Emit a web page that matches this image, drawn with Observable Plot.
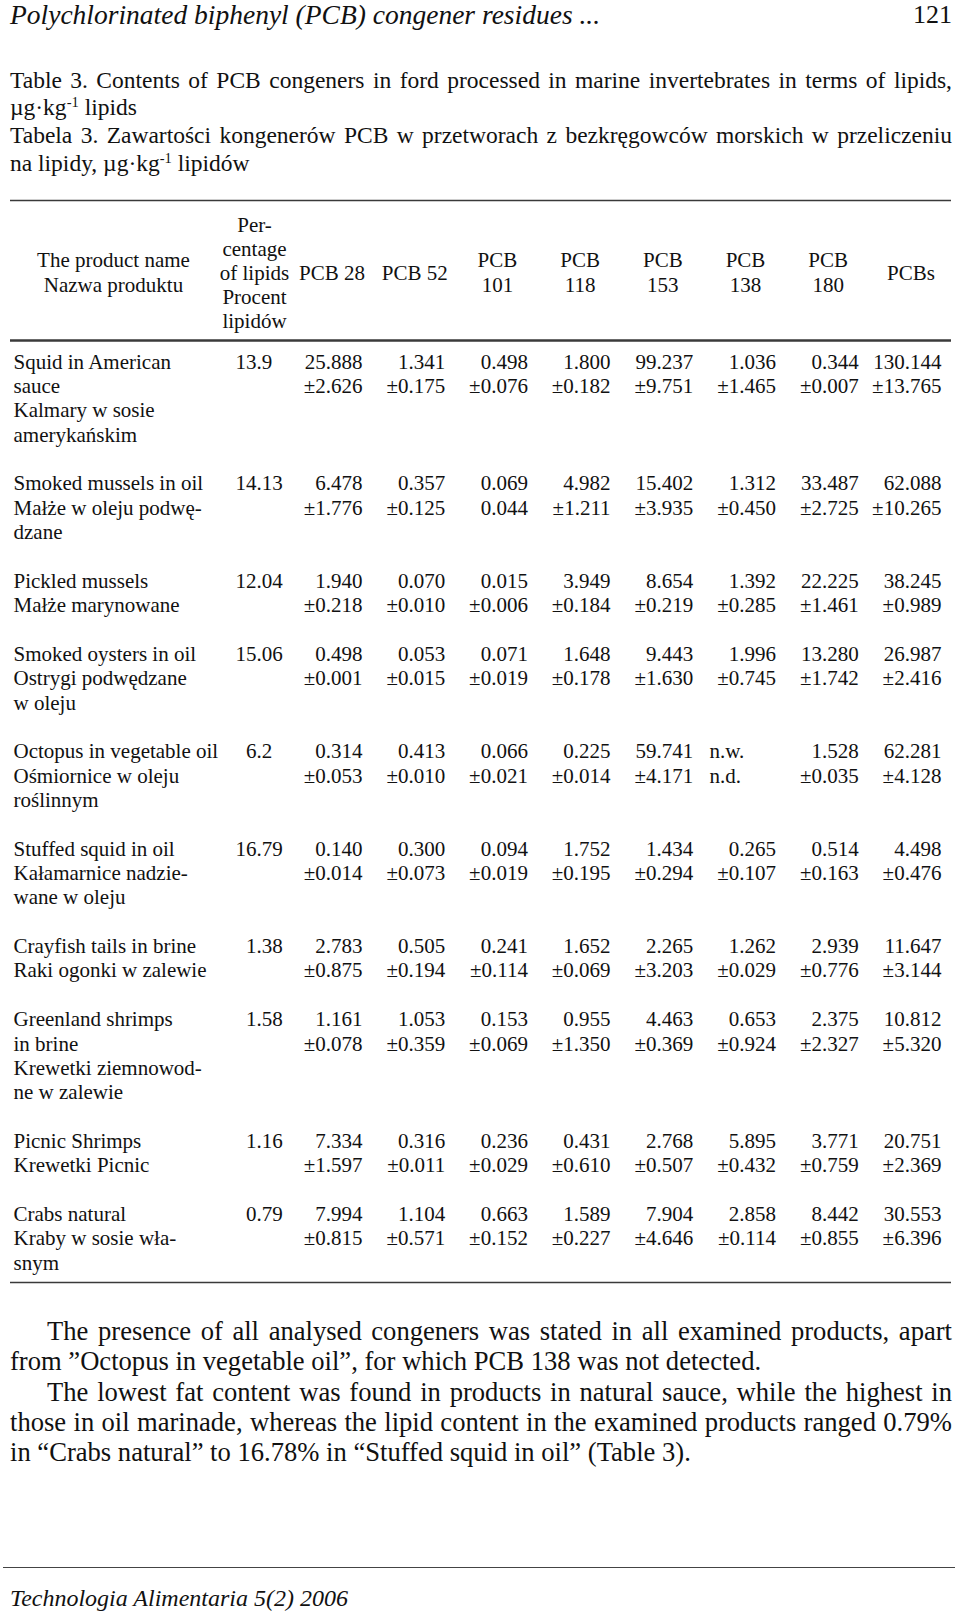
<!DOCTYPE html>
<html>
<head>
<meta charset="utf-8">
<script src="https://cdn.jsdelivr.net/npm/d3@7"></script>
<script src="https://cdn.jsdelivr.net/npm/@observablehq/plot@0.6"></script>
<style>
  html, body { margin: 0; padding: 0; background: #fff; }
  #page { position: relative; width: 960px; height: 1614px; background: #fff; color: #111;
          font-family: "Liberation Serif", "Times New Roman", serif; overflow: hidden; }
  .ln { position: absolute; left: 10px; width: 942px; white-space: nowrap; }
  .j { text-align: justify; text-align-last: justify; }
  .title { font-size: 23.5px; line-height: 28px; height: 28px; }
  .para { font-size: 26.6px; line-height: 30px; height: 30px; }
  .ind { left: 47px; width: 905px; }
  sup { font-size: 0.62em; vertical-align: 0.55em; line-height: 0; }
  .rule { position: absolute; left: 3px; width: 952px; height: 0; border-top: 1.6px solid #444; }
  #table { position: absolute; left: 0; top: 190px; }
</style>
</head>
<body>
<div id="page">
  <div class="ln" style="top:0px;font-size:27.5px;line-height:30px;font-style:italic;">Polychlorinated biphenyl (PCB) congener residues ...</div>
  <div class="ln" style="top:0px;font-size:26px;line-height:30px;text-align:right;">121</div>

  <div class="ln title j" style="top:66px;">Table 3. Contents of PCB congeners in ford processed in marine invertebrates in terms of lipids,</div>
  <div class="ln title" style="top:93px;">µg·kg<sup>-1</sup> lipids</div>
  <div class="ln title j" style="top:121px;">Tabela 3. Zawartości kongenerów PCB w przetworach z bezkręgowców morskich w przeliczeniu</div>
  <div class="ln title" style="top:149px;">na lipidy, µg·kg<sup>-1</sup> lipidów</div>

  <div id="table"></div>

  <div class="ln para j ind" style="top:1316px;">The presence of all analysed congeners was stated in all examined products, apart</div>
  <div class="ln para" style="top:1346px;">from ”Octopus in vegetable oil”, for which PCB 138 was not detected.</div>
  <div class="ln para j ind" style="top:1377px;">The lowest fat content was found in products in natural sauce, while the highest in</div>
  <div class="ln para j" style="top:1407px;">those in oil marinade, whereas the lipid content in the examined products ranged 0.79%</div>
  <div class="ln para" style="top:1437px;">in “Crabs natural” to 16.78% in “Stuffed squid in oil” (Table 3).</div>

  <div class="rule" style="top:1567px;"></div>
  <div class="ln" style="top:1584px;font-size:24px;line-height:28px;font-style:italic;">Technologia Alimentaria 5(2) 2006</div>
</div>

<script>
// ---------------- DATA ----------------
const productNames = [
  ["Squid in American", "sauce", "Kalmary w sosie", "amerykańskim"],
  ["Smoked mussels in oil", "Małże w oleju podwę-", "dzane"],
  ["Pickled mussels", "Małże marynowane"],
  ["Smoked oysters in oil", "Ostrygi podwędzane", "w oleju"],
  ["Octopus in vegetable oil", "Ośmiornice w oleju", "roślinnym"],
  ["Stuffed squid in oil", "Kałamarnice nadzie-", "wane w oleju"],
  ["Crayfish tails in brine", "Raki ogonki w zalewie"],
  ["Greenland shrimps", "in brine", "Krewetki ziemnowod-", "ne w zalewie"],
  ["Picnic Shrimps", "Krewetki Picnic"],
  ["Crabs natural", "Kraby w sosie wła-", "snym"]
];
const lipidPercent = [13.9, 14.13, 12.04, 15.06, 6.2, 16.79, 1.38, 1.58, 1.16, 0.79];

const congeners = ["PCB 28", "PCB 52", "PCB 101", "PCB 118", "PCB 153", "PCB 138", "PCB 180", "PCBs"];
const congenerHeaders = [["PCB 28"], ["PCB 52"], ["PCB", "101"], ["PCB", "118"], ["PCB", "153"], ["PCB", "138"], ["PCB", "180"], ["PCBs"]];
const nameHeader = ["The product name", "Nazwa produktu"];
const lipidHeader = ["Per-", "centage", "of lipids", "Procent", "lipidów"];

const meanPCB28  = [25.888, 6.478, 1.940, 0.498, 0.314, 0.140, 2.783, 1.161, 7.334, 7.994];
const sdPCB28    = [2.626, 1.776, 0.218, 0.001, 0.053, 0.014, 0.875, 0.078, 1.597, 0.815];
const meanPCB52  = [1.341, 0.357, 0.070, 0.053, 0.413, 0.300, 0.505, 1.053, 0.316, 1.104];
const sdPCB52    = [0.175, 0.125, 0.010, 0.015, 0.010, 0.073, 0.194, 0.359, 0.011, 0.571];
const meanPCB101 = [0.498, 0.069, 0.015, 0.071, 0.066, 0.094, 0.241, 0.153, 0.236, 0.663];
const sdPCB101   = [0.076, 0.044, 0.006, 0.019, 0.021, 0.019, 0.114, 0.069, 0.029, 0.152];
const meanPCB118 = [1.800, 4.982, 3.949, 1.648, 0.225, 1.752, 1.652, 0.955, 0.431, 1.589];
const sdPCB118   = [0.182, 1.211, 0.184, 0.178, 0.014, 0.195, 0.069, 1.350, 0.610, 0.227];
const meanPCB153 = [99.237, 15.402, 8.654, 9.443, 59.741, 1.434, 2.265, 4.463, 2.768, 7.904];
const sdPCB153   = [9.751, 3.935, 0.219, 1.630, 4.171, 0.294, 3.203, 0.369, 0.507, 4.646];
const meanPCB138 = [1.036, 1.312, 1.392, 1.996, null, 0.265, 1.262, 0.653, 5.895, 2.858];
const sdPCB138   = [1.465, 0.450, 0.285, 0.745, null, 0.107, 0.029, 0.924, 0.432, 0.114];
const meanPCB180 = [0.344, 33.487, 22.225, 13.280, 1.528, 0.514, 2.939, 2.375, 3.771, 8.442];
const sdPCB180   = [0.007, 2.725, 1.461, 1.742, 0.035, 0.163, 0.776, 2.327, 0.759, 0.855];
const meanPCBs   = [130.144, 62.088, 38.245, 26.987, 62.281, 4.498, 11.647, 10.812, 20.751, 30.553];
const sdPCBs     = [13.765, 10.265, 0.989, 2.416, 4.128, 0.476, 3.144, 5.320, 2.369, 6.396];
// cell printed without "±" in the source table: [product index, congener]
const sdPrintedWithoutSign = [[1, "PCB 101"]];
const notDetected = ["n.w.", "n.d."];

// ---------------- LAYOUT ----------------
const means = {"PCB 28": meanPCB28, "PCB 52": meanPCB52, "PCB 101": meanPCB101, "PCB 118": meanPCB118,
               "PCB 153": meanPCB153, "PCB 138": meanPCB138, "PCB 180": meanPCB180, "PCBs": meanPCBs};
const sds = {"PCB 28": sdPCB28, "PCB 52": sdPCB52, "PCB 101": sdPCB101, "PCB 118": sdPCB118,
             "PCB 153": sdPCB153, "PCB 138": sdPCB138, "PCB 180": sdPCB180, "PCBs": sdPCBs};

const layout = {
  nameX: 13, nameHeaderX: 113, lipidDecimalX: 256, lipidHeaderX: 254,
  firstRight: 362, colStep: 82.7, headerShift: 30.5, naLeft: 66.5,
  headerNameLines: [-4.17, -3.14], headerLipidLines: [-5.62, -4.63, -3.64, -2.65, -1.66],
  rules: {top: -6.63, header: -0.88, bottom: 37.8}, ruleX: [10, 951]
};
const fmt = d3.format(".3f");

const startCells = [], endCells = [], midCells = [];
let line = 0;
productNames.forEach((names, i) => {
  names.forEach((t, k) => startCells.push({x: layout.nameX, y: line + k, text: t}));
  const lp = String(lipidPercent[i]);
  const dot = lp.indexOf(".");
  endCells.push({x: layout.lipidDecimalX, y: line, text: lp.slice(0, dot)});
  startCells.push({x: layout.lipidDecimalX, y: line, text: lp.slice(dot)});
  congeners.forEach((c, j) => {
    const right = layout.firstRight + j * layout.colStep;
    const m = means[c][i], s = sds[c][i];
    if (m == null) {
      startCells.push({x: right - layout.naLeft, y: line, text: notDetected[0]});
      startCells.push({x: right - layout.naLeft, y: line + 1, text: notDetected[1]});
    } else {
      const noSign = sdPrintedWithoutSign.some(([pi, pc]) => pi === i && pc === c);
      endCells.push({x: right, y: line, text: fmt(m)});
      endCells.push({x: right, y: line + 1, text: (noSign ? "" : "±") + fmt(s)});
    }
  });
  line += names.length + 1;
});

nameHeader.forEach((t, k) => midCells.push({x: layout.nameHeaderX, y: layout.headerNameLines[k], text: t}));
lipidHeader.forEach((t, k) => midCells.push({x: layout.lipidHeaderX, y: layout.headerLipidLines[k], text: t}));
congenerHeaders.forEach((lines, j) => {
  const cx = layout.firstRight + j * layout.colStep - layout.headerShift;
  if (lines.length === 1) midCells.push({x: cx, y: layout.headerLipidLines[2], text: lines[0]});
  else lines.forEach((t, k) => midCells.push({x: cx, y: layout.headerNameLines[k], text: t}));
});

const ruleRows = [
  {y: layout.rules.top, w: 1.6},
  {y: layout.rules.header, w: 2.4},
  {y: layout.rules.bottom, w: 1.6}
];

const textOpts = {x: "x", y: "y", text: "text", fontSize: 21, fill: "#111"};
const chart = Plot.plot({
  width: 960,
  height: 1100,
  margin: 0,
  x: {type: "linear", domain: [0, 960], range: [0, 960], axis: null},
  y: {type: "linear", domain: [0, 1], range: [171.5, 195.85], axis: null},
  style: {fontFamily: "'Liberation Serif', 'Times New Roman', serif", fontSize: "21px", background: "transparent", color: "#111"},
  marks: [
    ...ruleRows.map(r => Plot.ruleY([r], {y: "y", x1: layout.ruleX[0], x2: layout.ruleX[1], stroke: "#3a3a3a", strokeWidth: r.w})),
    Plot.text(startCells, {...textOpts, textAnchor: "start"}),
    Plot.text(endCells, {...textOpts, textAnchor: "end"}),
    Plot.text(midCells, {...textOpts, textAnchor: "middle"})
  ]
});
document.getElementById("table").appendChild(chart);

// keep justified lines on one line: shrink slightly if they overflow
document.querySelectorAll(".j").forEach(el => {
  let fs = parseFloat(getComputedStyle(el).fontSize);
  while (el.scrollWidth > el.clientWidth + 0.5 && fs > 10) { fs -= 0.25; el.style.fontSize = fs + "px"; }
});
</script>
</body>
</html>
